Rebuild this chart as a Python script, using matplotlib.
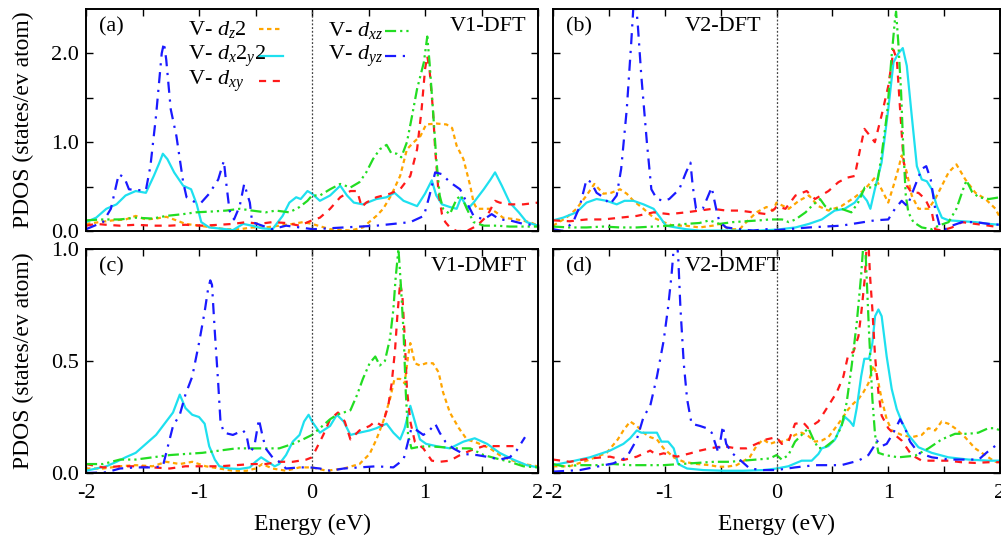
import numpy as np
import matplotlib
matplotlib.use('Agg')
from matplotlib import pyplot as plt

plt.rcParams['font.family'] = ['Liberation Serif', 'DejaVu Serif']
plt.rcParams['mathtext.fontset'] = 'custom'
plt.rcParams['mathtext.rm'] = 'Liberation Serif'
plt.rcParams['mathtext.it'] = 'Liberation Serif:italic'
plt.rcParams['mathtext.default'] = 'it'
plt.rcParams['axes.unicode_minus'] = False

################################################
# PDOS curves, (energy eV, states/eV atom)

# (a) V1-DFT
A_DZ2 = [(-2.0, 0.08), (-1.88, 0.10), (-1.76, 0.12), (-1.65, 0.13), (-1.56, 0.17), (-1.47, 0.13), (-1.38, 0.14),
         (-1.29, 0.16), (-1.20, 0.12), (-1.12, 0.08), (-1.0, 0.06), (-0.88, 0.04), (-0.76, 0.02), (-0.64, 0.02),
         (-0.53, 0.04), (-0.41, 0.04), (-0.29, 0.06), (-0.17, 0.08), (-0.08, 0.10), (0.0, 0.08), (0.16, 0.02),
         (0.34, 0.005), (0.45, 0.04), (0.57, 0.17), (0.63, 0.25), (0.70, 0.40), (0.78, 0.62), (0.84, 0.92),
         (0.90, 1.0), (0.96, 1.07), (1.01, 1.20), (1.10, 1.21), (1.19, 1.20), (1.24, 1.16), (1.28, 0.96),
         (1.34, 0.81), (1.40, 0.51), (1.43, 0.32), (1.46, 0.25), (1.58, 0.25), (1.63, 0.21), (1.69, 0.15),
         (1.81, 0.13), (1.93, 0.10), (2.0, 0.06)]
A_DX2Y2 = [(-2.0, 0.10), (-1.91, 0.15), (-1.82, 0.25), (-1.73, 0.30), (-1.65, 0.40), (-1.56, 0.45), (-1.47, 0.43),
           (-1.40, 0.62), (-1.35, 0.77), (-1.32, 0.87), (-1.28, 0.81), (-1.22, 0.66), (-1.14, 0.51), (-1.07, 0.47),
           (-1.02, 0.30), (-0.98, 0.10), (-0.91, 0.04), (-0.76, 0.02), (-0.70, 0.01), (-0.61, 0.08), (-0.53, 0.06),
           (-0.44, 0.03), (-0.35, 0.02), (-0.26, 0.17), (-0.20, 0.32), (-0.14, 0.38), (-0.10, 0.36), (-0.04, 0.45),
           (0.0, 0.42), (0.07, 0.34), (0.16, 0.40), (0.25, 0.51), (0.31, 0.40), (0.37, 0.32), (0.45, 0.30),
           (0.57, 0.36), (0.66, 0.38), (0.73, 0.43), (0.81, 0.34), (0.93, 0.28), (1.0, 0.42), (1.06, 0.57),
           (1.10, 0.40), (1.15, 0.30), (1.22, 0.27), (1.28, 0.25), (1.32, 0.38), (1.38, 0.25), (1.43, 0.32),
           (1.52, 0.47), (1.58, 0.58), (1.62, 0.66), (1.68, 0.51), (1.75, 0.32), (1.83, 0.21), (1.90, 0.10),
           (2.0, 0.06)]
A_DXY = [(-2.0, 0.06), (-1.91, 0.08), (-1.82, 0.07), (-1.70, 0.06), (-1.56, 0.07), (-1.41, 0.06), (-1.26, 0.06),
         (-1.12, 0.07), (-0.97, 0.06), (-0.82, 0.07), (-0.70, 0.08), (-0.58, 0.10), (-0.47, 0.08), (-0.35, 0.10),
         (-0.23, 0.09), (-0.11, 0.06), (0.0, 0.12), (0.07, 0.15), (0.16, 0.25), (0.25, 0.38), (0.34, 0.45),
         (0.40, 0.45), (0.44, 0.27), (0.48, 0.32), (0.57, 0.38), (0.69, 0.42), (0.78, 0.47), (0.87, 0.62),
         (0.93, 0.92), (0.97, 1.37), (1.0, 1.82), (1.02, 1.97), (1.04, 1.82), (1.07, 1.37), (1.09, 0.92),
         (1.12, 0.43), (1.15, 0.19), (1.18, 0.10), (1.22, 0.04), (1.28, 0.0), (1.37, 0.0), (1.46, 0.06),
         (1.55, 0.17), (1.62, 0.34), (1.66, 0.32), (1.75, 0.30), (1.87, 0.30), (2.0, 0.32)]
A_DXZ = [(-2.0, 0.12), (-1.85, 0.13), (-1.70, 0.13), (-1.56, 0.15), (-1.41, 0.14), (-1.29, 0.17), (-1.14, 0.19),
         (-1.03, 0.21), (-0.88, 0.22), (-0.76, 0.23), (-0.64, 0.25), (-0.53, 0.23), (-0.41, 0.21), (-0.32, 0.23),
         (-0.20, 0.21), (-0.11, 0.27), (-0.04, 0.34), (0.0, 0.40), (0.07, 0.40), (0.16, 0.47), (0.25, 0.53),
         (0.34, 0.49), (0.42, 0.55), (0.48, 0.66), (0.54, 0.81), (0.60, 0.92), (0.66, 0.97), (0.70, 0.88),
         (0.75, 0.87), (0.79, 0.83), (0.84, 1.0), (0.88, 1.26), (0.93, 1.60), (0.99, 1.90), (1.02, 2.19),
         (1.04, 1.90), (1.07, 1.37), (1.10, 0.81), (1.13, 0.40), (1.16, 0.25), (1.22, 0.19), (1.28, 0.36),
         (1.32, 0.40), (1.37, 0.25), (1.43, 0.10), (1.52, 0.06), (1.63, 0.06), (1.75, 0.05), (2.0, 0.05)]
A_DYZ = [(-2.0, 0.02), (-1.85, 0.10), (-1.78, 0.25), (-1.71, 0.64), (-1.66, 0.60), (-1.62, 0.47), (-1.55, 0.46),
         (-1.47, 0.46), (-1.43, 0.73), (-1.38, 1.30), (-1.33, 2.0), (-1.31, 2.12), (-1.29, 1.93), (-1.25, 1.37),
         (-1.20, 1.07), (-1.14, 0.55), (-1.11, 0.38), (-1.03, 0.32), (-0.98, 0.32), (-0.91, 0.42), (-0.83, 0.58),
         (-0.78, 0.79), (-0.76, 0.55), (-0.73, 0.23), (-0.69, 0.13), (-0.64, 0.28), (-0.60, 0.53), (-0.55, 0.32),
         (-0.53, 0.10), (-0.44, 0.06), (-0.35, 0.02), (-0.23, 0.06), (-0.11, 0.04), (0.01, 0.02), (0.28, 0.04),
         (0.57, 0.06), (0.87, 0.10), (0.99, 0.17), (1.04, 0.40), (1.09, 0.66), (1.15, 0.64), (1.22, 0.55),
         (1.31, 0.47), (1.37, 0.32), (1.43, 0.17), (1.52, 0.13), (1.59, 0.19), (1.66, 0.13), (1.75, 0.12),
         (1.87, 0.08), (2.0, 0.06)]

# (b) V2-DFT
B_DZ2 = [(-2.0, 0.06), (-1.88, 0.15), (-1.79, 0.25), (-1.70, 0.40), (-1.63, 0.53), (-1.55, 0.42), (-1.48, 0.43),
         (-1.40, 0.47), (-1.34, 0.42), (-1.28, 0.34), (-1.19, 0.25), (-1.10, 0.15), (-1.01, 0.10), (-0.93, 0.06),
         (-0.81, 0.06), (-0.69, 0.04), (-0.57, 0.06), (-0.51, 0.08), (-0.42, 0.02), (-0.33, 0.02), (-0.27, 0.10),
         (-0.18, 0.21), (-0.09, 0.27), (-0.03, 0.23), (0.0, 0.32), (0.11, 0.25), (0.20, 0.34), (0.29, 0.40),
         (0.375, 0.28), (0.465, 0.23), (0.58, 0.28), (0.70, 0.38), (0.79, 0.47), (0.88, 0.60), (0.94, 0.47),
         (1.0, 0.32), (1.047, 0.51), (1.09, 0.70), (1.12, 0.85), (1.166, 0.66), (1.21, 0.40), (1.27, 0.25),
         (1.36, 0.25), (1.42, 0.36), (1.48, 0.51), (1.54, 0.66), (1.61, 0.75), (1.69, 0.58), (1.78, 0.43),
         (1.87, 0.36), (1.96, 0.25), (2.0, 0.15)]
B_DX2Y2 = [(-2.0, 0.12), (-1.91, 0.15), (-1.79, 0.21), (-1.70, 0.32), (-1.61, 0.36), (-1.52, 0.34), (-1.43, 0.30),
           (-1.36, 0.34), (-1.28, 0.34), (-1.19, 0.30), (-1.10, 0.25), (-1.04, 0.15), (-0.99, 0.06), (-0.90, 0.04),
           (-0.81, 0.02), (-0.69, 0.005), (-0.51, 0.005), (-0.33, 0.005), (-0.15, 0.005), (0.0, 0.015),
           (0.17, 0.04), (0.29, 0.08), (0.405, 0.13), (0.52, 0.23), (0.61, 0.25), (0.70, 0.32), (0.76, 0.42),
           (0.81, 0.34), (0.84, 0.25), (0.88, 0.47), (0.94, 0.77), (1.0, 1.37), (1.047, 1.90), (1.09, 2.0),
           (1.13, 2.06), (1.166, 1.86), (1.21, 1.30), (1.256, 0.73), (1.30, 0.58), (1.345, 0.56), (1.39, 0.47),
           (1.435, 0.28), (1.48, 0.15), (1.54, 0.12), (1.66, 0.11), (1.78, 0.10), (1.90, 0.08), (2.0, 0.07)]
B_DXY = [(-2.0, 0.12), (-1.85, 0.11), (-1.70, 0.13), (-1.55, 0.13), (-1.40, 0.15), (-1.25, 0.17), (-1.10, 0.21),
         (-0.96, 0.19), (-0.81, 0.21), (-0.69, 0.23), (-0.57, 0.25), (-0.45, 0.23), (-0.33, 0.23), (-0.21, 0.21),
         (-0.09, 0.19), (-0.015, 0.25), (0.0, 0.28), (0.08, 0.25), (0.17, 0.40), (0.27, 0.45), (0.345, 0.36),
         (0.465, 0.45), (0.554, 0.55), (0.63, 0.60), (0.70, 0.62), (0.748, 0.92), (0.787, 1.15), (0.838, 1.07),
         (0.88, 1.0), (0.94, 1.30), (1.0, 1.63), (1.047, 2.04), (1.077, 1.93), (1.106, 1.37), (1.136, 0.81),
         (1.166, 0.51), (1.21, 0.43), (1.27, 0.43), (1.33, 0.36), (1.39, 0.21), (1.42, 0.02), (1.48, 0.005),
         (1.57, 0.04), (1.66, 0.10), (1.78, 0.08), (1.90, 0.06), (2.0, 0.04)]
B_DXZ = [(-2.0, 0.05), (-1.85, 0.04), (-1.70, 0.04), (-1.55, 0.05), (-1.40, 0.04), (-1.25, 0.04), (-1.10, 0.05),
         (-0.96, 0.06), (-0.81, 0.08), (-0.69, 0.09), (-0.60, 0.12), (-0.51, 0.08), (-0.39, 0.10), (-0.27, 0.11),
         (-0.15, 0.12), (-0.06, 0.13), (0.0, 0.13), (0.05, 0.13), (0.11, 0.10), (0.17, 0.13), (0.26, 0.21),
         (0.33, 0.30), (0.39, 0.36), (0.435, 0.28), (0.48, 0.25), (0.58, 0.25), (0.67, 0.21), (0.73, 0.32),
         (0.79, 0.49), (0.85, 0.49), (0.90, 0.53), (0.94, 0.85), (0.99, 1.33), (1.03, 1.97), (1.06, 2.38),
         (1.07, 2.47), (1.09, 2.12), (1.115, 1.56), (1.135, 0.92), (1.157, 0.40), (1.18, 0.21), (1.225, 0.10),
         (1.30, 0.04), (1.39, 0.02), (1.45, 0.06), (1.54, 0.10), (1.61, 0.25), (1.67, 0.47), (1.70, 0.57),
         (1.75, 0.44), (1.81, 0.38), (1.90, 0.36), (2.0, 0.38)]
B_DYZ = [(-2.0, 0.02), (-1.91, 0.0), (-1.82, 0.10), (-1.76, 0.28), (-1.70, 0.58), (-1.66, 0.55), (-1.61, 0.43),
         (-1.55, 0.38), (-1.49, 0.30), (-1.43, 0.40), (-1.39, 0.70), (-1.34, 1.37), (-1.30, 2.12), (-1.27, 2.75),
         (-1.24, 2.3), (-1.21, 1.75), (-1.16, 1.0), (-1.12, 0.47), (-1.07, 0.36), (-1.01, 0.34), (-0.96, 0.36),
         (-0.87, 0.47), (-0.81, 0.66), (-0.77, 0.77), (-0.75, 0.51), (-0.72, 0.25), (-0.66, 0.25), (-0.61, 0.40),
         (-0.58, 0.49), (-0.54, 0.25), (-0.51, 0.10), (-0.45, 0.04), (-0.33, 0.02), (-0.21, 0.005), (-0.09, 0.02),
         (0.0, 0.01), (0.29, 0.04), (0.58, 0.06), (0.88, 0.12), (1.0, 0.13), (1.06, 0.25), (1.12, 0.34),
         (1.17, 0.28), (1.24, 0.51), (1.30, 0.70), (1.34, 0.73), (1.38, 0.58), (1.42, 0.25), (1.46, 0.06),
         (1.51, 0.02), (1.57, 0.06), (1.66, 0.10), (1.78, 0.10), (1.90, 0.08), (2.0, 0.07)]

# (c) V1-DMFT
C_DZ2 = [(-2.0, 0.02), (-1.85, 0.02), (-1.70, 0.03), (-1.56, 0.035), (-1.41, 0.03), (-1.29, 0.05), (-1.17, 0.04),
         (-1.06, 0.05), (-0.94, 0.03), (-0.82, 0.02), (-0.70, 0.01), (-0.58, 0.01), (-0.50, 0.02), (-0.44, 0.04),
         (-0.35, 0.02), (-0.23, 0.01), (-0.11, 0.025), (0.0, 0.025), (0.13, 0.01), (0.28, 0.02), (0.42, 0.04),
         (0.51, 0.085), (0.57, 0.15), (0.63, 0.23), (0.69, 0.33), (0.73, 0.42), (0.78, 0.42), (0.82, 0.40),
         (0.85, 0.52), (0.87, 0.58), (0.91, 0.49), (0.955, 0.48), (1.01, 0.49), (1.07, 0.49), (1.12, 0.45),
         (1.16, 0.36), (1.22, 0.27), (1.30, 0.20), (1.37, 0.15), (1.46, 0.135), (1.575, 0.11), (1.66, 0.08),
         (1.75, 0.06), (1.87, 0.04), (2.0, 0.03)]
C_DX2Y2 = [(-2.0, 0.01), (-1.91, 0.02), (-1.82, 0.03), (-1.73, 0.05), (-1.65, 0.07), (-1.56, 0.09), (-1.47, 0.13),
           (-1.38, 0.17), (-1.29, 0.23), (-1.23, 0.27), (-1.17, 0.35), (-1.12, 0.29), (-1.06, 0.26), (-1.0, 0.25),
           (-0.95, 0.22), (-0.91, 0.12), (-0.86, 0.06), (-0.82, 0.03), (-0.73, 0.02), (-0.64, 0.018),
           (-0.55, 0.025), (-0.50, 0.05), (-0.45, 0.07), (-0.39, 0.05), (-0.33, 0.03), (-0.29, 0.04),
           (-0.23, 0.08), (-0.17, 0.14), (-0.11, 0.17), (-0.07, 0.23), (-0.03, 0.26), (0.0, 0.23), (0.07, 0.18),
           (0.16, 0.21), (0.22, 0.26), (0.28, 0.23), (0.34, 0.17), (0.42, 0.18), (0.51, 0.19), (0.57, 0.20),
           (0.66, 0.22), (0.72, 0.18), (0.78, 0.15), (0.82, 0.20), (0.87, 0.30), (0.91, 0.23), (0.955, 0.15),
           (1.01, 0.13), (1.10, 0.12), (1.22, 0.11), (1.34, 0.14), (1.44, 0.155), (1.55, 0.13), (1.66, 0.09),
           (1.78, 0.06), (1.90, 0.035), (2.0, 0.025)]
C_DXY = [(-2.0, 0.04), (-1.85, 0.025), (-1.70, 0.03), (-1.56, 0.03), (-1.41, 0.025), (-1.26, 0.02), (-1.12, 0.03),
         (-0.97, 0.03), (-0.82, 0.03), (-0.67, 0.035), (-0.53, 0.04), (-0.41, 0.04), (-0.29, 0.05), (-0.17, 0.05),
         (-0.05, 0.06), (0.0, 0.07), (0.04, 0.11), (0.10, 0.17), (0.16, 0.24), (0.23, 0.27), (0.29, 0.23),
         (0.34, 0.15), (0.42, 0.19), (0.51, 0.21), (0.56, 0.23), (0.62, 0.21), (0.675, 0.30), (0.705, 0.40),
         (0.735, 0.55), (0.755, 0.70), (0.78, 0.85), (0.80, 0.79), (0.82, 0.61), (0.84, 0.375), (0.87, 0.23),
         (0.91, 0.14), (0.985, 0.11), (1.06, 0.055), (1.13, 0.05), (1.22, 0.055), (1.31, 0.08), (1.40, 0.10),
         (1.52, 0.12), (1.63, 0.12), (1.75, 0.12), (1.84, 0.12)]
C_DXZ = [(-2.0, 0.04), (-1.85, 0.04), (-1.70, 0.06), (-1.56, 0.06), (-1.41, 0.07), (-1.26, 0.08), (-1.12, 0.085),
         (-0.97, 0.09), (-0.82, 0.10), (-0.67, 0.11), (-0.53, 0.11), (-0.38, 0.11), (-0.29, 0.11), (-0.17, 0.13),
         (-0.08, 0.15), (0.0, 0.17), (0.07, 0.20), (0.16, 0.24), (0.22, 0.26), (0.28, 0.27), (0.34, 0.28),
         (0.40, 0.35), (0.45, 0.42), (0.51, 0.49), (0.56, 0.52), (0.60, 0.48), (0.645, 0.50), (0.69, 0.60),
         (0.72, 0.73), (0.74, 0.87), (0.765, 1.0), (0.785, 0.85), (0.81, 0.63), (0.83, 0.36), (0.85, 0.17),
         (0.88, 0.11), (0.93, 0.115), (1.01, 0.12), (1.16, 0.115), (1.28, 0.11), (1.40, 0.11), (1.52, 0.08),
         (1.63, 0.065), (1.75, 0.05), (1.87, 0.03), (2.0, 0.025)]
C_DYZ = [(-2.0, 0.0), (-1.82, 0.003), (-1.70, 0.02), (-1.56, 0.025), (-1.41, 0.025), (-1.32, 0.03), (-1.28, 0.11),
         (-1.23, 0.21), (-1.17, 0.26), (-1.12, 0.35), (-1.06, 0.43), (-1.0, 0.58), (-0.95, 0.72), (-0.92, 0.82),
         (-0.90, 0.86), (-0.885, 0.84), (-0.86, 0.63), (-0.83, 0.40), (-0.81, 0.23), (-0.78, 0.18), (-0.70, 0.17),
         (-0.61, 0.19), (-0.58, 0.17), (-0.55, 0.09), (-0.51, 0.12), (-0.47, 0.24), (-0.44, 0.17), (-0.41, 0.11),
         (-0.35, 0.07), (-0.29, 0.05), (-0.23, 0.02), (-0.11, 0.025), (-0.02, 0.025), (0.07, 0.02), (0.16, 0.01),
         (0.28, 0.02), (0.42, 0.025), (0.57, 0.03), (0.72, 0.025), (0.81, 0.06), (0.85, 0.14), (0.88, 0.20),
         (0.93, 0.19), (0.985, 0.17), (1.04, 0.19), (1.09, 0.22), (1.13, 0.18), (1.18, 0.14), (1.25, 0.11),
         (1.34, 0.085), (1.46, 0.08), (1.575, 0.07), (1.66, 0.06), (1.75, 0.07), (1.81, 0.10), (1.885, 0.16)]

# (d) V2-DMFT
D_DZ2 = [(-2.0, 0.03), (-1.85, 0.03), (-1.67, 0.06), (-1.52, 0.09), (-1.42, 0.15), (-1.37, 0.19), (-1.31, 0.23),
         (-1.25, 0.21), (-1.19, 0.18), (-1.13, 0.16), (-1.07, 0.15), (-1.01, 0.11), (-0.92, 0.07), (-0.83, 0.05),
         (-0.71, 0.04), (-0.596, 0.035), (-0.52, 0.028), (-0.446, 0.028), (-0.357, 0.035), (-0.24, 0.07),
         (-0.18, 0.12), (-0.12, 0.15), (-0.06, 0.13), (0.0, 0.14), (0.047, 0.14), (0.106, 0.15), (0.166, 0.17),
         (0.225, 0.18), (0.285, 0.165), (0.345, 0.14), (0.405, 0.145), (0.464, 0.16), (0.524, 0.20),
         (0.583, 0.24), (0.643, 0.285), (0.688, 0.31), (0.733, 0.33), (0.777, 0.36), (0.822, 0.40),
         (0.867, 0.48), (0.897, 0.44), (0.941, 0.33), (0.986, 0.24), (1.031, 0.19), (1.12, 0.17), (1.21, 0.16),
         (1.30, 0.17), (1.36, 0.20), (1.42, 0.19), (1.478, 0.23), (1.538, 0.22), (1.598, 0.20), (1.687, 0.16),
         (1.777, 0.11), (1.866, 0.08), (1.956, 0.05), (2.0, 0.05)]
D_DX2Y2 = [(-2.0, 0.035), (-1.85, 0.05), (-1.67, 0.07), (-1.49, 0.10), (-1.37, 0.13), (-1.31, 0.155), (-1.25, 0.19),
           (-1.21, 0.18), (-1.15, 0.18), (-1.07, 0.18), (-1.03, 0.14), (-0.97, 0.14), (-0.92, 0.11), (-0.88, 0.04),
           (-0.80, 0.02), (-0.655, 0.013), (-0.476, 0.01), (-0.297, 0.01), (-0.118, 0.013), (0.0, 0.02),
           (0.106, 0.03), (0.225, 0.055), (0.315, 0.055), (0.375, 0.085), (0.405, 0.11), (0.464, 0.12),
           (0.524, 0.15), (0.569, 0.20), (0.613, 0.25), (0.658, 0.23), (0.688, 0.21), (0.718, 0.29),
           (0.757, 0.43), (0.786, 0.51), (0.828, 0.51), (0.858, 0.58), (0.882, 0.70), (0.912, 0.73),
           (0.941, 0.70), (0.986, 0.52), (1.031, 0.375), (1.076, 0.285), (1.12, 0.23), (1.18, 0.17),
           (1.27, 0.115), (1.389, 0.09), (1.538, 0.07), (1.717, 0.06), (1.896, 0.055), (2.0, 0.055)]
D_DXY = [(-2.0, 0.06), (-1.85, 0.05), (-1.67, 0.065), (-1.49, 0.073), (-1.37, 0.058), (-1.25, 0.073), (-1.13, 0.10),
         (-1.07, 0.08), (-1.01, 0.088), (-0.89, 0.073), (-0.77, 0.088), (-0.685, 0.10), (-0.595, 0.11),
         (-0.476, 0.12), (-0.36, 0.11), (-0.27, 0.11), (-0.18, 0.13), (-0.09, 0.15), (0.0, 0.16), (0.047, 0.13),
         (0.106, 0.14), (0.166, 0.22), (0.24, 0.225), (0.285, 0.20), (0.375, 0.23), (0.464, 0.30), (0.539, 0.36),
         (0.598, 0.43), (0.643, 0.53), (0.688, 0.54), (0.733, 0.61), (0.762, 0.73), (0.792, 0.88), (0.816, 1.1),
         (0.837, 0.88), (0.858, 0.73), (0.882, 0.52), (0.912, 0.36), (0.941, 0.256), (1.0, 0.20), (1.06, 0.17),
         (1.12, 0.145), (1.21, 0.08), (1.30, 0.055), (1.42, 0.055), (1.538, 0.055), (1.657, 0.048),
         (1.777, 0.045), (1.896, 0.048), (2.0, 0.048)]
D_DXZ = [(-2.0, 0.04), (-1.91, 0.03), (-1.76, 0.035), (-1.61, 0.035), (-1.46, 0.04), (-1.31, 0.035), (-1.16, 0.035),
         (-1.01, 0.035), (-0.86, 0.04), (-0.71, 0.045), (-0.56, 0.05), (-0.42, 0.05), (-0.30, 0.055), (-0.18, 0.06),
         (-0.06, 0.065), (0.0, 0.08), (0.047, 0.06), (0.106, 0.08), (0.166, 0.14), (0.225, 0.17), (0.285, 0.20),
         (0.33, 0.15), (0.375, 0.11), (0.434, 0.115), (0.524, 0.15), (0.583, 0.21), (0.628, 0.315), (0.673, 0.48),
         (0.718, 0.67), (0.757, 0.88), (0.777, 1.02), (0.786, 1.08), (0.80, 0.95), (0.828, 0.63), (0.858, 0.33),
         (0.882, 0.17), (0.912, 0.09), (0.971, 0.08), (1.09, 0.07), (1.24, 0.077), (1.36, 0.11), (1.478, 0.15),
         (1.598, 0.175), (1.717, 0.175), (1.806, 0.18), (1.896, 0.20), (1.956, 0.20), (2.0, 0.19)]
D_DYZ = [(-2.0, 0.006), (-1.76, 0.013), (-1.61, 0.028), (-1.46, 0.043), (-1.34, 0.07), (-1.25, 0.15), (-1.19, 0.25),
         (-1.13, 0.30), (-1.07, 0.43), (-1.01, 0.59), (-0.97, 0.74), (-0.94, 0.88), (-0.92, 1.0), (-0.90, 1.08),
         (-0.88, 0.97), (-0.86, 0.74), (-0.83, 0.49), (-0.80, 0.33), (-0.76, 0.22), (-0.685, 0.21), (-0.625, 0.20),
         (-0.58, 0.18), (-0.52, 0.09), (-0.48, 0.21), (-0.45, 0.13), (-0.40, 0.09), (-0.33, 0.06), (-0.24, 0.02),
         (-0.12, 0.013), (0.0, 0.013), (0.166, 0.025), (0.345, 0.035), (0.58, 0.035), (0.733, 0.055),
         (0.822, 0.08), (0.867, 0.115), (0.897, 0.145), (0.94, 0.12), (0.986, 0.13), (1.046, 0.18), (1.106, 0.24),
         (1.15, 0.20), (1.195, 0.14), (1.27, 0.09), (1.39, 0.07), (1.54, 0.06), (1.69, 0.06), (1.81, 0.06),
         (1.866, 0.085), (1.926, 0.11), (1.985, 0.13)]

LABELS = [r'V- $d_z2$', r'V- $d_x2_y2$', r'V- $d_{xy}$', r'V- $d_{xz}$', r'V- $d_{yz}$']
COLORS = ['#ffa500', '#1ee0ef', '#ff1a1a', '#22dd22', '#1a1aff']
STYLES = [(0, (2.0, 1.6)), '-', (0, (3.2, 3.0)), (0, (5, 1.8, 1, 1.8, 1, 1.8)), (0, (5, 3, 1, 3))]

PANELS = [('(a)', 'V1-DFT', [A_DZ2, A_DX2Y2, A_DXY, A_DXZ, A_DYZ]),
          ('(b)', 'V2-DFT', [B_DZ2, B_DX2Y2, B_DXY, B_DXZ, B_DYZ]),
          ('(c)', 'V1-DMFT', [C_DZ2, C_DX2Y2, C_DXY, C_DXZ, C_DYZ]),
          ('(d)', 'V2-DMFT', [D_DZ2, D_DX2Y2, D_DXY, D_DXZ, D_DYZ])]

################################################

fig = plt.figure(figsize=(10.01, 5.44), dpi=100)
W, H = 1001.0, 544.0
boxes = [(86, 9, 538, 231), (553, 9, 1000, 231), (86, 249, 538, 473), (553, 249, 1000, 473)]
axes = [fig.add_axes([x0 / W, 1 - y1 / H, (x1 - x0) / W, (y1 - y0) / H]) for x0, y0, x1, y1 in boxes]

for i, (ax, (tag, name, curves)) in enumerate(zip(axes, PANELS)):
    for pts, c, ls in zip(curves, COLORS, STYLES):
        pts = np.array(pts)
        ax.plot(pts[:, 0], pts[:, 1], color=c, linestyle=ls, linewidth=1.6)
    ax.axvline(0, color='#444444', linestyle=(0, (1.5, 1.5)), linewidth=0.9)
    ax.set_xlim(-2, 2)
    top = i < 2
    if top:
        ax.set_ylim(0, 2.5)
        ax.set_yticks([0, 1, 2])
        ax.set_yticks([0.5, 1.5], minor=True)
    else:
        ax.set_ylim(0, 1.0)
        ax.set_yticks([0, 0.5, 1.0])
    ax.set_xticks([-2, -1, 0, 1, 2])
    ax.set_xticks([-1.5, -0.5, 0.5, 1.5], minor=True)
    ax.tick_params(which='both', direction='in', top=True, right=True, length=5, width=1, labelsize=16)
    ax.tick_params(axis='x', pad=8)
    ax.tick_params(axis='y', pad=5)
    for s in ax.spines.values():
        s.set_linewidth(1.4)
    if i % 2 == 0:
        ax.set_yticklabels(['%.1f' % t for t in ax.get_yticks()])
        ax.set_ylabel('PDOS (states/ev atom)', fontsize=17, labelpad=12)
    else:
        ax.set_yticklabels([])
    if top:
        ax.set_xticklabels([])
    else:
        ax.set_xlabel('Energy (eV)', fontsize=17, labelpad=8)

    ax.text(0.028, 0.965, tag, transform=ax.transAxes, ha='left', va='top', fontsize=16)
    if i % 2 == 0:
        ax.text(0.975, 0.965, name, transform=ax.transAxes, ha='right', va='top', fontsize=16)
    else:
        ax.text(0.295, 0.965, name, transform=ax.transAxes, ha='left', va='top', fontsize=16)

# key in panel (a): text on the left, sample line on the right
ka = axes[0]
key_pos = [(0.226, 0.908, 0.383, 0.436), (0.226, 0.788, 0.383, 0.436), (0.226, 0.676, 0.383, 0.436),
           (0.535, 0.903, 0.661, 0.717), (0.535, 0.788, 0.661, 0.717)]
for lab, c, ls, (tx, ty, l0, l1) in zip(LABELS, COLORS, STYLES, key_pos):
    ka.text(tx, ty, lab, transform=ka.transAxes, ha='left', va='center', fontsize=16)
    ka.plot([l0, l1], [ty, ty], transform=ka.transAxes, color=c, linestyle=ls, linewidth=1.6)

fig.savefig('out.png', dpi=100)
